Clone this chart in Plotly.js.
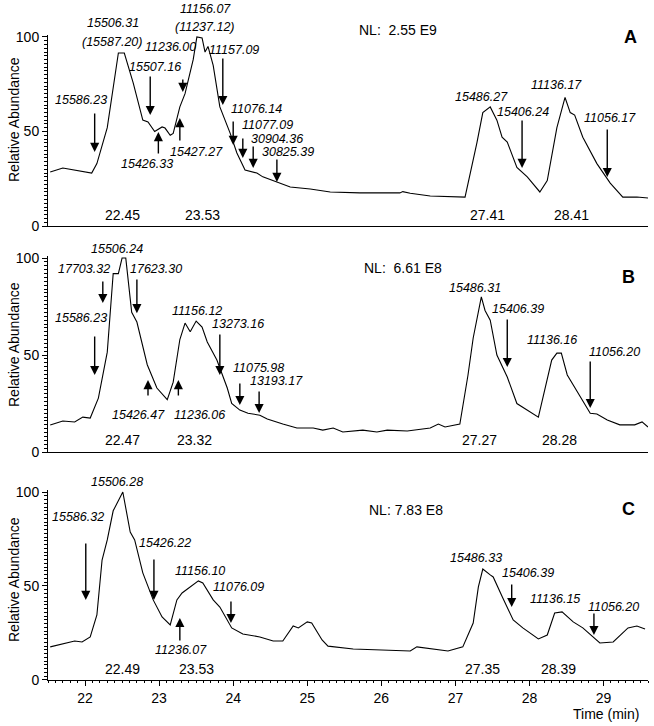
<!DOCTYPE html>
<html>
<head>
<meta charset="utf-8">
<script src="https://cdn.plot.ly/plotly-3.0.1.min.js"></script>
<style>html,body{margin:0;padding:0;background:#fff;}#chart{width:654px;height:726px;}</style>
</head>
<body>
<div id="chart"></div>
<script>
// ---------- Data: retention time (min) and relative abundance ----------
const timeA = [21.53,21.70,22.09,22.16,22.30,22.45,22.53,22.65,22.78,22.85,22.94,23.04,23.08,23.15,23.19,23.28,23.35,23.46,23.51,23.58,23.62,23.66,23.73,23.82,23.96,24.05,24.16,24.32,24.40,24.59,24.77,25.04,25.31,25.71,26.25,26.29,26.39,26.66,27.13,27.29,27.37,27.47,27.56,27.63,27.70,27.83,27.97,28.14,28.24,28.37,28.48,28.55,28.61,28.72,28.91,29.09,29.26,29.45,29.60];
const abundA = [28.6,30.7,28,33,52,91.5,91.5,75.7,56,55,50,52.4,51.8,48,49,63,70,88,100,99.5,92,95,85,63,49,38.6,29.6,28,26,23.3,20.6,19.6,18,17.5,17.5,18.2,17.3,15.9,15.3,44,60,63,56,47,44.4,31,26,18,24,52,68,60,58.7,47,33,22.7,15.3,15.3,14.8];

const timeB = [21.53,21.70,21.86,21.97,22.07,22.18,22.30,22.38,22.45,22.50,22.55,22.63,22.70,22.84,22.97,23.11,23.19,23.28,23.35,23.42,23.50,23.58,23.65,23.78,23.92,23.98,24.09,24.20,24.36,24.46,24.67,24.86,25.08,25.21,25.35,25.48,25.75,25.94,26.08,26.35,26.66,26.77,26.86,27.06,27.17,27.24,27.35,27.40,27.47,27.56,27.70,27.83,28.12,28.18,28.30,28.37,28.43,28.51,28.59,28.82,28.91,29.05,29.22,29.42,29.52,29.60];
const abundB = [13.9,16,15.5,18,17.5,27.8,51.5,92,92,100,100,72,67,45,33,27,36,58,66.5,62,67.5,64.4,56.7,47.4,33,25,21.6,20,19,17,14.4,12.4,12.4,11.3,12.4,10.3,11.3,10.3,11.3,10.8,12.4,14.4,12.9,14.4,39.7,58.8,80,73,68,50,38.7,25,18,27.8,47.4,51,51,39.7,34.5,20,19.6,16.5,14,14,15.5,12.9];

const timeC = [21.53,21.76,21.86,21.96,22.07,22.16,22.23,22.30,22.38,22.51,22.61,22.67,22.78,22.92,23.04,23.15,23.24,23.31,23.42,23.53,23.59,23.73,23.82,23.98,24.13,24.36,24.54,24.67,24.81,24.88,25.00,25.06,25.20,25.28,25.62,26.08,26.39,26.48,26.70,26.90,27.10,27.24,27.31,27.37,27.47,27.51,27.64,27.78,27.91,28.12,28.24,28.34,28.44,28.59,28.72,28.95,29.13,29.33,29.45,29.56];
const abundC = [17.6,19.7,20.7,20.2,22.9,34.6,63.8,74.5,90,100,78.7,74.5,57,42.6,33.5,29.3,42.6,46.3,49.5,52.7,51.6,42.6,38.8,27.7,24.5,22.9,20.7,20.7,28.7,27.7,30.9,30.3,21.3,18,16.5,16,15.4,17.6,16.5,15.4,17.6,30.3,49.5,59,55.9,54.8,43.6,31.9,27.7,21.8,23.9,35.6,36.2,30.9,27.7,19.7,20.2,27.7,28.7,27.1];

// ---------- Tick labels ----------
const xTickVals = [22,23,24,25,26,27,28,29];
const yTickVals = [0,50,100];

// ---------- Retention-time labels ----------
const rtTextA = ['22.45','23.53','27.41','28.41'];
const rtTextB = ['22.47','23.32','27.27','28.28'];
const rtTextC = ['22.49','23.53','27.35','28.39'];

// ---------- Mass labels ----------
const massTextA = ['15506.31','(15587.20)','11156.07','(11237.12)','11236.00','11157.09','15507.16','15586.23','15426.33','15427.27','11076.14','11077.09','30904.36','30825.39','15486.27','15406.24','11136.17','11056.17'];
const massTextB = ['15506.24','17703.32','17623.30','15586.23','15426.47','11236.06','11156.12','13273.16','11075.98','13193.17','15486.31','15406.39','11136.16','11056.20'];
const massTextC = ['15506.28','15586.32','15426.22','11156.10','11076.09','11236.07','15486.33','15406.39','11136.15','11056.20'];

const nlText = ['NL:  2.55 E9','NL:  6.61 E8','NL: 7.83 E8'];
const panelText = ['A','B','C'];

// ---------- Label placement (annotation layout) ----------
const rtPosA = [22.50,23.59,27.43,28.57];
const rtPosB = [22.51,23.48,27.33,28.40];
const rtPosC = [22.50,23.51,27.37,28.39];
const rtLevel = 6;

const massPosXA = [22.38,22.36,23.62,23.62,23.15,24.01,22.94,21.95,22.84,23.50,24.32,24.46,24.59,24.74,27.35,27.91,28.37,29.09];
const massPosYA = [107.4,97.4,114.8,105.3,94.7,93.1,84.1,66.7,32.8,39.2,62.0,53.4,45.9,39.0,68.3,60.3,74.6,57.1];
const massPosXB = [22.43,21.99,22.96,21.95,22.72,23.55,23.51,24.07,24.34,24.58,27.26,27.85,28.30,29.15];
const massPosYB = [104.6,94.3,94.3,69.1,19.1,19.1,72.7,66.0,43.3,36.6,84.5,73.7,57.7,51.5];
const massPosXC = [22.43,21.91,23.08,23.55,24.07,23.30,27.28,27.98,28.34,29.14];
const massPosYC = [105.3,86.7,72.9,58.0,49.5,16.0,64.9,56.9,43.1,38.8];

const arrowXA = [23.32,23.86,22.88,22.13,22.99,23.28,24.00,24.13,24.27,24.59,27.90,29.05];
const arrowTailA = [78.3,89.4,79.9,60.3,37.6,44.4,56.1,47.1,42.9,36.0,56.6,51.9];
const arrowTipA = [70.9,64.0,58.7,39.2,49.7,57.1,42.9,36.0,30.7,23.3,30.7,25.9];
const arrowXB = [22.24,22.70,22.13,22.85,23.26,23.82,24.09,24.35,27.70,28.82];
const arrowTailB = [88.7,89.7,60.3,28.4,28.4,61.3,36.1,32.0,69.1,47.4];
const arrowTipB = [76.8,71.6,39.7,37.1,37.1,39.7,24.2,20.1,43.8,22.7];
const arrowXC = [22.01,22.93,23.97,23.28,27.76,28.87];
const arrowTailC = [73.4,64.9,42.6,20.2,51.6,36.2];
const arrowTipC = [42.6,42.6,30.3,33.0,38.8,23.9];

const FONT = 'Liberation Sans, Arial, sans-serif';
const Y_MAX = 101;
const domains = {y: [0.6887, 0.9517], y2: [0.3774, 0.6472], y3: [0.0634, 0.3249]};

const traces = [
  {x: timeA, y: abundA, xaxis: 'x', yaxis: 'y'},
  {x: timeB, y: abundB, xaxis: 'x2', yaxis: 'y2'},
  {x: timeC, y: abundC, xaxis: 'x3', yaxis: 'y3'}
].map(t => Object.assign(t, {type: 'scatter', mode: 'lines', line: {color: '#000', width: 1.1}, hoverinfo: 'skip', showlegend: false}));

const xRange = [21.5, 29.6];
const xDomain = [48/654, 648/654];
function xax(showLabels) {
  const a = {
    range: xRange, domain: xDomain, showline: true, linecolor: '#000', linewidth: 1,
    showgrid: false, zeroline: false, fixedrange: true,
    tickfont: {family: FONT, size: 14, color: '#000'}
  };
  if (showLabels) {
    Object.assign(a, {tickmode: 'array', tickvals: xTickVals, ticks: 'outside', ticklen: 5, tickcolor: '#000', tickwidth: 1,
      minor: {dtick: 0.1, ticks: 'outside', ticklen: 2.5, tickcolor: '#000', tickwidth: 1}});
  } else {
    Object.assign(a, {showticklabels: false, ticks: ''});
  }
  return a;
}
function yax(domain, anchor) {
  return {
    range: [0, Y_MAX], domain: domain, anchor: anchor, showline: true, linecolor: '#000', linewidth: 1,
    showgrid: false, zeroline: false, fixedrange: true,
    tickmode: 'array', tickvals: yTickVals, ticks: 'outside', ticklen: 5, tickcolor: '#000', tickwidth: 1,
    minor: {dtick: 2, ticks: 'outside', ticklen: 3, tickcolor: '#000', tickwidth: 1},
    tickfont: {family: FONT, size: 14, color: '#000'}
  };
}

// Labels that sit above an axis' range would be hidden; place those in paper space instead.
function yPlace(yr, y) {
  if (y <= Y_MAX) return {yref: yr, y: y};
  const d = domains[yr];
  return {yref: 'paper', y: d[0] + (y / Y_MAX) * (d[1] - d[0])};
}

const annotations = [];
function addPanel(xr, yr, rtText, rtPos, massText, mx, my, ax, atail, atip, nl, letter) {
  rtText.forEach((t, i) => annotations.push(Object.assign({xref: xr, x: rtPos[i], text: t, showarrow: false,
    font: {family: FONT, size: 14, color: '#000'}, xanchor: 'center', yanchor: 'middle'}, yPlace(yr, rtLevel))));
  massText.forEach((t, i) => annotations.push(Object.assign({xref: xr, x: mx[i], text: '<i>' + t + '</i>', showarrow: false,
    font: {family: FONT, size: 12.5, color: '#000'}, xanchor: 'center', yanchor: 'middle'}, yPlace(yr, my[i]))));
  ax.forEach((xv, i) => annotations.push({xref: xr, yref: yr, axref: xr, ayref: yr, x: xv, y: atip[i], ax: xv, ay: atail[i],
    text: '', showarrow: true, arrowhead: 2, arrowsize: 1.3, arrowwidth: 1.4, arrowcolor: '#000', standoff: 0, startstandoff: 0}));
  annotations.push(Object.assign({xref: xr, x: nl.x, text: nl.t, showarrow: false, xanchor: 'left', yanchor: 'middle',
    font: {family: FONT, size: 14, color: '#000'}}, yPlace(yr, nl.y)));
  annotations.push(Object.assign({xref: xr, x: letter.x, text: '<b>' + letter.t + '</b>', showarrow: false,
    xanchor: 'center', yanchor: 'middle', font: {family: FONT, size: 18, color: '#000'}}, yPlace(yr, letter.y)));
}
addPanel('x', 'y', rtTextA, rtPosA, massTextA, massPosXA, massPosYA, arrowXA, arrowTailA, arrowTipA,
  {t: nlText[0], x: 25.67, y: 103.7}, {t: panelText[0], x: 29.36, y: 100});
addPanel('x2', 'y2', rtTextB, rtPosB, massTextB, massPosXB, massPosYB, arrowXB, arrowTailB, arrowTipB,
  {t: nlText[1], x: 25.74, y: 94.8}, {t: panelText[1], x: 29.33, y: 90.2});
addPanel('x3', 'y3', rtTextC, rtPosC, massTextC, massPosXC, massPosYC, arrowXC, arrowTailC, arrowTipC,
  {t: nlText[2], x: 25.81, y: 90.4}, {t: panelText[2], x: 29.33, y: 91.0});

// y-axis titles and x-axis title
[120, 345, 580].forEach(py => annotations.push({xref: 'paper', yref: 'paper', x: 14/654, y: (726 - py)/726,
  text: 'Relative Abundance', textangle: -90, showarrow: false, xanchor: 'center', yanchor: 'middle',
  font: {family: FONT, size: 14, color: '#000'}}));
annotations.push({xref: 'paper', yref: 'paper', x: 606/654, y: (726 - 714)/726, text: 'Time (min)', showarrow: false,
  xanchor: 'center', yanchor: 'middle', font: {family: FONT, size: 14, color: '#000'}});

const layout = {
  width: 654, height: 726,
  margin: {l: 0, r: 0, t: 0, b: 0},
  paper_bgcolor: '#fff', plot_bgcolor: '#fff',
  showlegend: false,
  font: {family: FONT, size: 14, color: '#000'},
  xaxis: Object.assign(xax(false), {anchor: 'y'}),
  xaxis2: Object.assign(xax(false), {anchor: 'y2'}),
  xaxis3: Object.assign(xax(true), {anchor: 'y3'}),
  yaxis: yax(domains.y, 'x'),
  yaxis2: yax(domains.y2, 'x2'),
  yaxis3: yax(domains.y3, 'x3'),
  annotations: annotations
};

Plotly.newPlot('chart', traces, layout, {staticPlot: true, displayModeBar: false});
</script>
</body>
</html>
